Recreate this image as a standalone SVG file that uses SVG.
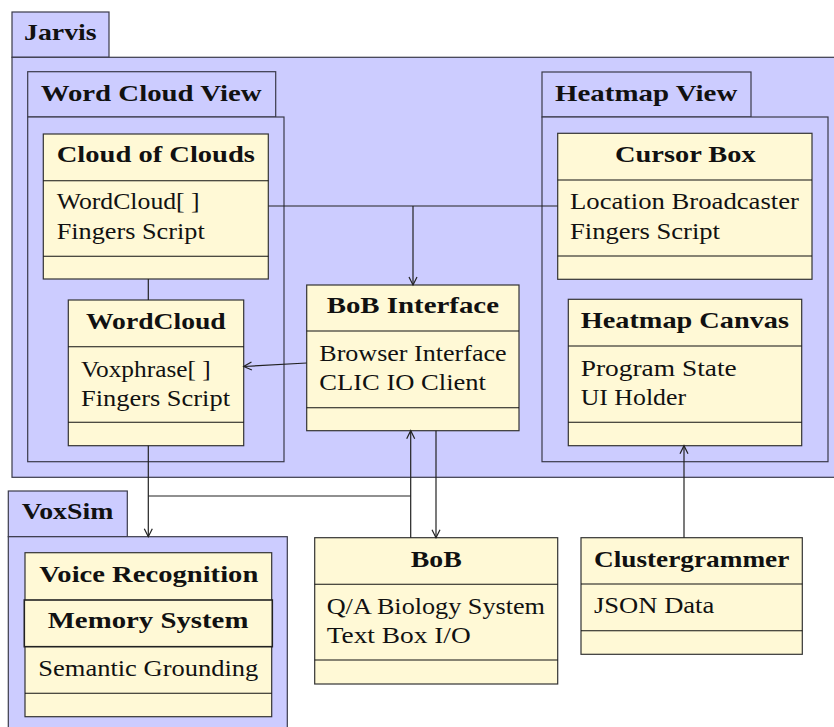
<svg xmlns="http://www.w3.org/2000/svg" width="834" height="727" viewBox="0 0 834 727">
<style>
.pkg{fill:#ccccff;stroke:#3a3a4a;stroke-width:1.2}
.cls{fill:#fff9d6;stroke:#333;stroke-width:1.2}
.sep{stroke:#111;stroke-width:1.1;fill:none}
.t{font-family:"Liberation Serif","Times New Roman",serif;font-size:23px;fill:#111}
.b{font-weight:bold}
.c{text-anchor:middle}
.con{stroke:#222;stroke-width:1.2;fill:none}
.arr{marker-end:url(#ah)}
</style>
<defs>
<marker id="ah" markerUnits="userSpaceOnUse" markerWidth="12" markerHeight="12" viewBox="-9 -6 10 12" refX="0" refY="0" orient="auto">
<path d="M-8,-4 L0,0 L-8,4" fill="none" stroke="#222" stroke-width="1.2"/>
</marker>
</defs>

<g id="jarvis">
<rect class="pkg" x="12" y="12" width="97" height="45.3"/>
<rect class="pkg" x="12" y="57.3" width="830" height="420"/>
<text class="t b" x="24" y="40" textLength="72.7" lengthAdjust="spacingAndGlyphs">Jarvis</text>
</g>

<g id="word-cloud-view">
<rect class="pkg" x="27.7" y="71.7" width="248" height="45.3"/>
<rect class="pkg" x="27.7" y="117" width="256.3" height="344.7"/>
<text class="t b" x="40.7" y="100.5" textLength="221" lengthAdjust="spacingAndGlyphs">Word Cloud View</text>
</g>

<g id="heatmap-view">
<rect class="pkg" x="542" y="72" width="209" height="45"/>
<rect class="pkg" x="542" y="117" width="286" height="344.7"/>
<text class="t b" x="555" y="100.7" textLength="182.3" lengthAdjust="spacingAndGlyphs">Heatmap View</text>
</g>

<g id="voxsim">
<rect class="pkg" x="8.3" y="491" width="119" height="45.7"/>
<rect class="pkg" x="8.3" y="536.7" width="279" height="200"/>
<text class="t b" x="21.7" y="519.3" textLength="91.7" lengthAdjust="spacingAndGlyphs">VoxSim</text>
</g>

<g id="cloud-of-clouds">
<rect class="cls" x="43.3" y="134" width="225" height="145"/>
<line class="sep" x1="43.3" y1="180.7" x2="268.3" y2="180.7"/>
<line class="sep" x1="43.3" y1="256.3" x2="268.3" y2="256.3"/>
<text class="t b" x="56.7" y="162.3" textLength="198.3" lengthAdjust="spacingAndGlyphs">Cloud of Clouds</text>
<text class="t" x="56.7" y="208.5" textLength="143" lengthAdjust="spacingAndGlyphs">WordCloud[ ]</text>
<text class="t" x="56.7" y="239" textLength="148" lengthAdjust="spacingAndGlyphs">Fingers Script</text>
</g>

<g id="wordcloud">
<rect class="cls" x="68.3" y="300" width="175.4" height="145.7"/>
<line class="sep" x1="68.3" y1="346.7" x2="243.7" y2="346.7"/>
<line class="sep" x1="68.3" y1="422.3" x2="243.7" y2="422.3"/>
<text class="t b" x="86" y="329" textLength="139.7" lengthAdjust="spacingAndGlyphs">WordCloud</text>
<text class="t" x="81" y="376.5" textLength="129.7" lengthAdjust="spacingAndGlyphs">Voxphrase[ ]</text>
<text class="t" x="81" y="405.5" textLength="149" lengthAdjust="spacingAndGlyphs">Fingers Script</text>
</g>

<g id="bob-interface">
<rect class="cls" x="306.7" y="285" width="212.3" height="145.7"/>
<line class="sep" x1="306.7" y1="331" x2="519" y2="331"/>
<line class="sep" x1="306.7" y1="407.7" x2="519" y2="407.7"/>
<text class="t b" x="326.7" y="313" textLength="172.3" lengthAdjust="spacingAndGlyphs">BoB Interface</text>
<text class="t" x="319.3" y="361" textLength="187.3" lengthAdjust="spacingAndGlyphs">Browser Interface</text>
<text class="t" x="319.3" y="390" textLength="166.7" lengthAdjust="spacingAndGlyphs">CLIC IO Client</text>
</g>

<g id="cursor-box">
<rect class="cls" x="557.7" y="133.3" width="254.3" height="146"/>
<line class="sep" x1="557.7" y1="180" x2="812" y2="180"/>
<line class="sep" x1="557.7" y1="256" x2="812" y2="256"/>
<text class="t b" x="615" y="161.7" textLength="140.7" lengthAdjust="spacingAndGlyphs">Cursor Box</text>
<text class="t" x="570" y="208.5" textLength="229" lengthAdjust="spacingAndGlyphs">Location Broadcaster</text>
<text class="t" x="570" y="239" textLength="150" lengthAdjust="spacingAndGlyphs">Fingers Script</text>
</g>

<g id="heatmap-canvas">
<rect class="cls" x="568.3" y="299.3" width="233.4" height="146.4"/>
<line class="sep" x1="568.3" y1="346" x2="801.7" y2="346"/>
<line class="sep" x1="568.3" y1="422.3" x2="801.7" y2="422.3"/>
<text class="t b" x="580.7" y="328.3" textLength="208.3" lengthAdjust="spacingAndGlyphs">Heatmap Canvas</text>
<text class="t" x="580.7" y="376" textLength="156" lengthAdjust="spacingAndGlyphs">Program State</text>
<text class="t" x="580.7" y="405" textLength="105.3" lengthAdjust="spacingAndGlyphs">UI Holder</text>
</g>

<g id="voice-recognition">
<rect class="cls" x="25" y="552.7" width="246.7" height="164"/>
<line class="sep" x1="25" y1="693.3" x2="271.7" y2="693.3"/>
<text class="t b" x="39.3" y="581.7" textLength="219" lengthAdjust="spacingAndGlyphs">Voice Recognition</text>
<text class="t" x="38.3" y="676" textLength="220" lengthAdjust="spacingAndGlyphs">Semantic Grounding</text>
</g>

<g id="memory-system">
<rect class="cls" x="24.3" y="600" width="248" height="46.7" style="stroke:#222;stroke-width:1.6"/>
<text class="t b" x="47.7" y="628.3" textLength="200.7" lengthAdjust="spacingAndGlyphs">Memory System</text>
</g>

<g id="bob">
<rect class="cls" x="314.7" y="537.7" width="243" height="146.3"/>
<line class="sep" x1="314.7" y1="584.3" x2="557.7" y2="584.3"/>
<line class="sep" x1="314.7" y1="660" x2="557.7" y2="660"/>
<text class="t b" x="410.7" y="566.7" textLength="51" lengthAdjust="spacingAndGlyphs">BoB</text>
<text class="t" x="326.7" y="614" textLength="218.3" lengthAdjust="spacingAndGlyphs">Q/A Biology System</text>
<text class="t" x="326.7" y="642.7" textLength="144" lengthAdjust="spacingAndGlyphs">Text Box I/O</text>
</g>

<g id="clustergrammer">
<rect class="cls" x="581" y="537.7" width="221.3" height="116.6"/>
<line class="sep" x1="581" y1="584" x2="802.3" y2="584"/>
<line class="sep" x1="581" y1="630.7" x2="802.3" y2="630.7"/>
<text class="t b" x="594" y="566.7" textLength="195.3" lengthAdjust="spacingAndGlyphs">Clustergrammer</text>
<text class="t" x="594" y="613" textLength="120.3" lengthAdjust="spacingAndGlyphs">JSON Data</text>
</g>

<g id="connectors">
<line class="con" x1="268.3" y1="206" x2="557.7" y2="206"/>
<line class="con arr" x1="413" y1="206" x2="413" y2="285"/>
<line class="con arr" x1="306.7" y1="363" x2="243.7" y2="366.5"/>
<line class="con" x1="148.3" y1="279" x2="148.3" y2="300"/>
<line class="con arr" x1="148.3" y1="445.7" x2="148.3" y2="536.7"/>
<line class="con" x1="148.3" y1="496" x2="410.7" y2="496"/>
<line class="con arr" x1="410.7" y1="537.7" x2="410.7" y2="430.7"/>
<line class="con arr" x1="436" y1="430.7" x2="436" y2="537.7"/>
<line class="con arr" x1="684" y1="537.7" x2="684" y2="445.7"/>
</g>
</svg>
